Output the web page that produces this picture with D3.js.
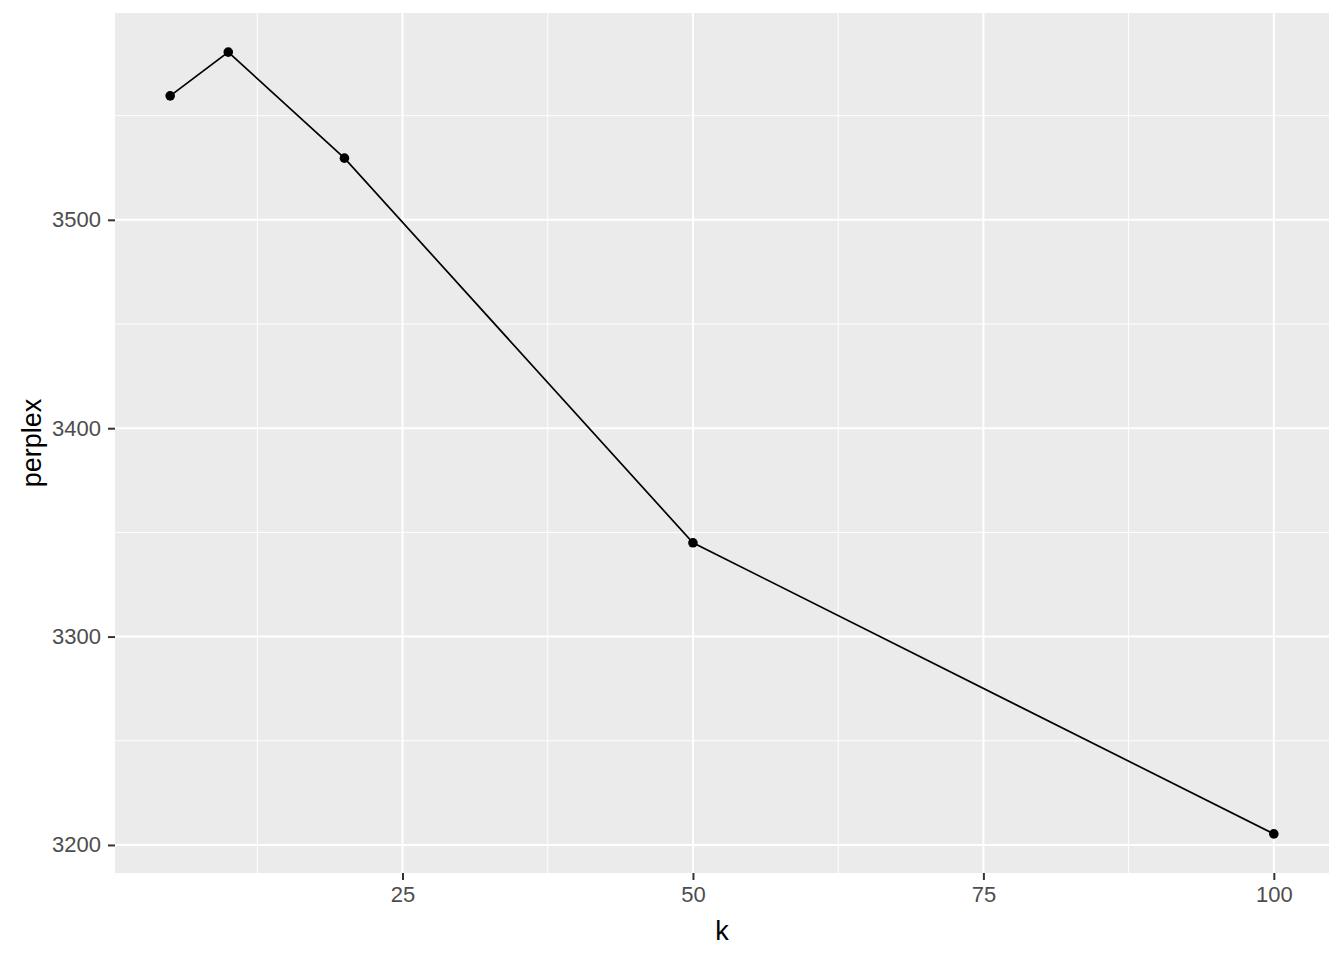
<!DOCTYPE html>
<html>
<head>
<meta charset="utf-8">
<script src="https://cdn.jsdelivr.net/npm/d3@7"></script>
<style>
  body { margin: 0; background: #fff; }
  text { font-family: "Liberation Sans", Arial, sans-serif; }
</style>
</head>
<body>
<div id="chart"></div>
<script>
// data
const kValues = [5, 10, 20, 50, 100];
const perplexValues = [3559.5, 3580.5, 3529.6, 3345, 3205.3];
const xTicks = [25, 50, 75, 100];
const yTicks = [3200, 3300, 3400, 3500];
const xMinor = [12.5, 37.5, 62.5, 87.5];
const yMinor = [3250, 3350, 3450, 3550];

const width = 1344, height = 960;
const panel = { left: 115, top: 13, right: 1329, bottom: 873 };

const svg = d3.select("#chart").append("svg")
  .attr("width", width)
  .attr("height", height);

// ggplot style 5% expansion
function expand(ext) {
  const pad = (ext[1] - ext[0]) * 0.05;
  return [ext[0] - pad, ext[1] + pad];
}

const x = d3.scaleLinear()
  .domain(expand(d3.extent(kValues)))
  .range([panel.left, panel.right]);
const y = d3.scaleLinear()
  .domain(expand(d3.extent(perplexValues)))
  .range([panel.bottom, panel.top]);

svg.append("rect")
  .attr("x", panel.left)
  .attr("y", panel.top)
  .attr("width", panel.right - panel.left)
  .attr("height", panel.bottom - panel.top)
  .attr("fill", "#ebebeb");

const grid = svg.append("g");
grid.selectAll("line.xminor").data(xMinor).enter().append("line")
  .attr("x1", d => x(d)).attr("x2", d => x(d))
  .attr("y1", panel.top).attr("y2", panel.bottom)
  .attr("stroke", "#fff").attr("stroke-width", 1);
grid.selectAll("line.yminor").data(yMinor).enter().append("line")
  .attr("y1", d => y(d)).attr("y2", d => y(d))
  .attr("x1", panel.left).attr("x2", panel.right)
  .attr("stroke", "#fff").attr("stroke-width", 1);
grid.selectAll("line.xmajor").data(xTicks).enter().append("line")
  .attr("x1", d => x(d)).attr("x2", d => x(d))
  .attr("y1", panel.top).attr("y2", panel.bottom)
  .attr("stroke", "#fff").attr("stroke-width", 2);
grid.selectAll("line.ymajor").data(yTicks).enter().append("line")
  .attr("y1", d => y(d)).attr("y2", d => y(d))
  .attr("x1", panel.left).attr("x2", panel.right)
  .attr("stroke", "#fff").attr("stroke-width", 2);

// axes
const xAxis = svg.append("g")
  .attr("transform", `translate(0,${panel.bottom})`)
  .call(d3.axisBottom(x).tickValues(xTicks).tickSize(7).tickPadding(6));
const yAxis = svg.append("g")
  .attr("transform", `translate(${panel.left},0)`)
  .call(d3.axisLeft(y).tickValues(yTicks).tickSize(7).tickPadding(7).tickFormat(d3.format("d")));

[xAxis, yAxis].forEach(ax => {
  ax.select(".domain").remove();
  ax.selectAll(".tick line").attr("stroke", "#333").attr("stroke-width", 2);
  ax.selectAll(".tick text")
    .attr("fill", "#4d4d4d")
    .attr("font-size", "22px")
    .attr("font-family", "Liberation Sans, Arial, sans-serif");
});

// line + points
const line = d3.line()
  .x((d, i) => x(kValues[i]))
  .y(d => y(d));

svg.append("path")
  .datum(perplexValues)
  .attr("d", line)
  .attr("fill", "none")
  .attr("stroke", "#000")
  .attr("stroke-width", 1.7);

svg.selectAll("circle")
  .data(perplexValues)
  .enter()
  .append("circle")
  .attr("cx", (d, i) => x(kValues[i]))
  .attr("cy", d => y(d))
  .attr("r", 4.8)
  .attr("fill", "#000");

// axis titles
svg.append("text")
  .attr("x", (panel.left + panel.right) / 2)
  .attr("y", 940)
  .attr("text-anchor", "middle")
  .attr("font-size", "27px")
  .attr("fill", "#000")
  .text("k");

svg.append("text")
  .attr("transform", `translate(41,${(panel.top + panel.bottom) / 2}) rotate(-90)`)
  .attr("text-anchor", "middle")
  .attr("font-size", "27px")
  .attr("fill", "#000")
  .text("perplex");
</script>
</body>
</html>
